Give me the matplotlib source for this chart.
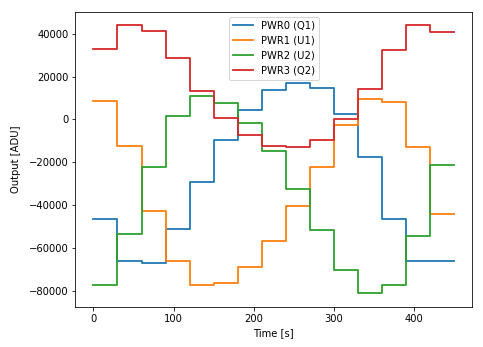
import matplotlib
matplotlib.use("Agg")
from matplotlib import pyplot as plt
import numpy as np

# step start times [s], each level lasts 30 s, last one ends at 450 s
step_times = [0, 30, 60, 90, 120, 150, 180, 210, 240, 270, 300, 330, 360, 390, 420, 450]

pwr0_q1 = [-46300, -65900, -66700, -51000, -29200, -9600, 4200, 13500,
           17100, 14600, 2400, -17700, -46300, -65900, -66000]
pwr1_u1 = [8600, -12500, -42800, -66100, -77000, -76100, -68700, -56500,
           -40100, -22000, -2800, 9700, 8200, -13000, -44100]
pwr2_u2 = [-77000, -53500, -22100, 1700, 10800, 7700, -1600, -14600,
           -32300, -51500, -70000, -81000, -77300, -54100, -21300]
pwr3_q2 = [32800, 43900, 41300, 28500, 13300, 800, -7200, -12200,
           -13000, -9600, 300, 14400, 32500, 43800, 40600]

series = [
    ("PWR0 (Q1)", pwr0_q1),
    ("PWR1 (U1)", pwr1_u1),
    ("PWR2 (U2)", pwr2_u2),
    ("PWR3 (Q2)", pwr3_q2),
]

fig = plt.figure(figsize=(483 / 72, 347 / 72), dpi=72)
ax = fig.add_axes([0.156, 0.116, 0.822, 0.850])

t = np.array(step_times)
for label, values in series:
    y = np.append(values, values[-1])
    ax.plot(t, y, drawstyle="steps-post", linewidth=1.8, label=label)

ax.set_xlabel("Time [s]")
ax.set_ylabel("Output [ADU]", labelpad=8)
ax.set_xticks([0, 100, 200, 300, 400])
ax.legend(loc="upper center")

fig.savefig("out.png", dpi=72)
